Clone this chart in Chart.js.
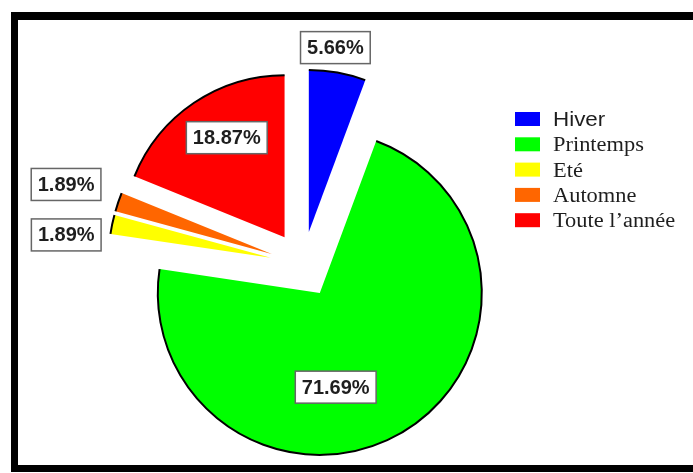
<!DOCTYPE html>
<html>
<head>
<meta charset="utf-8">
<title>Répartition saisonnière</title>
<script src="https://cdn.jsdelivr.net/npm/chart.js@4.4.1/dist/chart.umd.min.js"></script>
<style>
  html, body { margin: 0; padding: 0; background: #fff; overflow: hidden; }
  #wrap { position: relative; width: 693px; height: 473px; }
</style>
</head>
<body>
<div id="wrap"><canvas id="pie" width="693" height="473"></canvas></div>
<script>
// season categories and their share (%)
const categories = ['Hiver', 'Printemps', 'Eté', 'Automne', 'Toute l\u2019année'];
const shares = [5.66, 71.69, 1.89, 1.89, 18.87];
const sliceColors = ['#0000ff', '#00ff00', '#ffff00', '#ff6600', '#ff0000'];

// how far each slice is pulled out from the centre, px
const EXPLODE = 33;
// value label placement per slice: [angle shift in degrees, radius factor]
const labelPlace = [[-2, 1.15], [21, 0.59], [-5.5, 1.27], [0, 1.34], [3.8, 0.71]];
const legendFonts = ['20px "Liberation Sans", Arial', '20px "Liberation Serif", "Times New Roman"',
  '20px "Liberation Serif", "Times New Roman"', '20px "Liberation Serif", "Times New Roman"',
  '20px "Liberation Serif", "Times New Roman"'];

// white page + thick black frame (right edge runs off the canvas)
const framePlugin = {
  id: 'frame',
  beforeDraw(chart) {
    const ctx = chart.ctx;
    ctx.save();
    ctx.fillStyle = '#fff';
    ctx.fillRect(0, 0, chart.width, chart.height);
    ctx.restore();
  },
  afterDraw(chart) {
    const ctx = chart.ctx;
    ctx.save();
    ctx.fillStyle = '#000';
    ctx.fillRect(11, 12, chart.width - 11, 8);
    ctx.fillRect(11, 12, 7, 460);
    ctx.fillRect(11, 465, chart.width - 11, 7);
    ctx.restore();
  }
};

// draws every arc shifted outwards along its bisector, with a black rim
const explodePlugin = {
  id: 'explode',
  beforeDatasetDraw(chart, args) {
    const ctx = chart.ctx;
    args.meta.data.forEach(function (arc) {
      const mid = (arc.startAngle + arc.endAngle) / 2;
      ctx.save();
      ctx.translate(Math.cos(mid) * EXPLODE, Math.sin(mid) * EXPLODE);
      arc.draw(ctx);
      ctx.beginPath();
      ctx.arc(arc.x, arc.y, arc.outerRadius, arc.startAngle, arc.endAngle);
      ctx.lineWidth = 2;
      ctx.strokeStyle = '#000';
      ctx.stroke();
      ctx.restore();
    });
    return false;
  }
};

// boxed percentage labels
const valueLabels = {
  id: 'valueLabels',
  afterDatasetsDraw(chart) {
    const ctx = chart.ctx;
    const meta = chart.getDatasetMeta(0);
    ctx.save();
    ctx.font = 'bold 20px "Liberation Sans", Arial, sans-serif';
    ctx.textAlign = 'center';
    ctx.textBaseline = 'middle';
    meta.data.forEach(function (arc, i) {
      const mid = (arc.startAngle + arc.endAngle) / 2;
      const a = mid + labelPlace[i][0] * Math.PI / 180;
      const r = arc.outerRadius * labelPlace[i][1];
      const cx = arc.x + Math.cos(mid) * EXPLODE + Math.cos(a) * r;
      const cy = arc.y + Math.sin(mid) * EXPLODE + Math.sin(a) * r;
      const txt = shares[i].toFixed(2) + '%';
      const w = ctx.measureText(txt).width + 13;
      const h = 32;
      ctx.fillStyle = '#fff';
      ctx.fillRect(cx - w / 2, cy - h / 2, w, h);
      ctx.lineWidth = 1.5;
      ctx.strokeStyle = '#666';
      ctx.strokeRect(cx - w / 2, cy - h / 2, w, h);
      ctx.fillStyle = '#1e1e1e';
      ctx.fillText(txt, cx, cy + 1);
    });
    ctx.restore();
  }
};

// legend on the right, text slightly widened
const sideLegend = {
  id: 'sideLegend',
  afterDraw(chart) {
    const ctx = chart.ctx;
    const colors = chart.data.datasets[0].backgroundColor;
    ctx.save();
    chart.data.labels.forEach(function (lab, i) {
      const yc = 119 + i * 25.3;
      ctx.fillStyle = colors[i];
      ctx.fillRect(515, yc - 7, 25, 14);
      ctx.save();
      ctx.translate(553, yc + 7);
      ctx.scale(1.12, 1);
      ctx.font = legendFonts[i];
      ctx.fillStyle = '#1e1e1e';
      ctx.textBaseline = 'alphabetic';
      ctx.fillText(lab, 0, 0);
      ctx.restore();
    });
    ctx.restore();
  }
};

new Chart(document.getElementById('pie'), {
  type: 'pie',
  data: {
    labels: categories,
    datasets: [{
      data: shares,
      backgroundColor: sliceColors,
      borderWidth: 0,
      radius: 162
    }]
  },
  options: {
    responsive: false,
    animation: false,
    layout: { padding: { left: 20, right: 107, top: 70, bottom: 14 } },
    plugins: {
      legend: { display: false },
      tooltip: { enabled: false }
    },
    events: []
  },
  plugins: [framePlugin, explodePlugin, valueLabels, sideLegend]
});
</script>
</body>
</html>
